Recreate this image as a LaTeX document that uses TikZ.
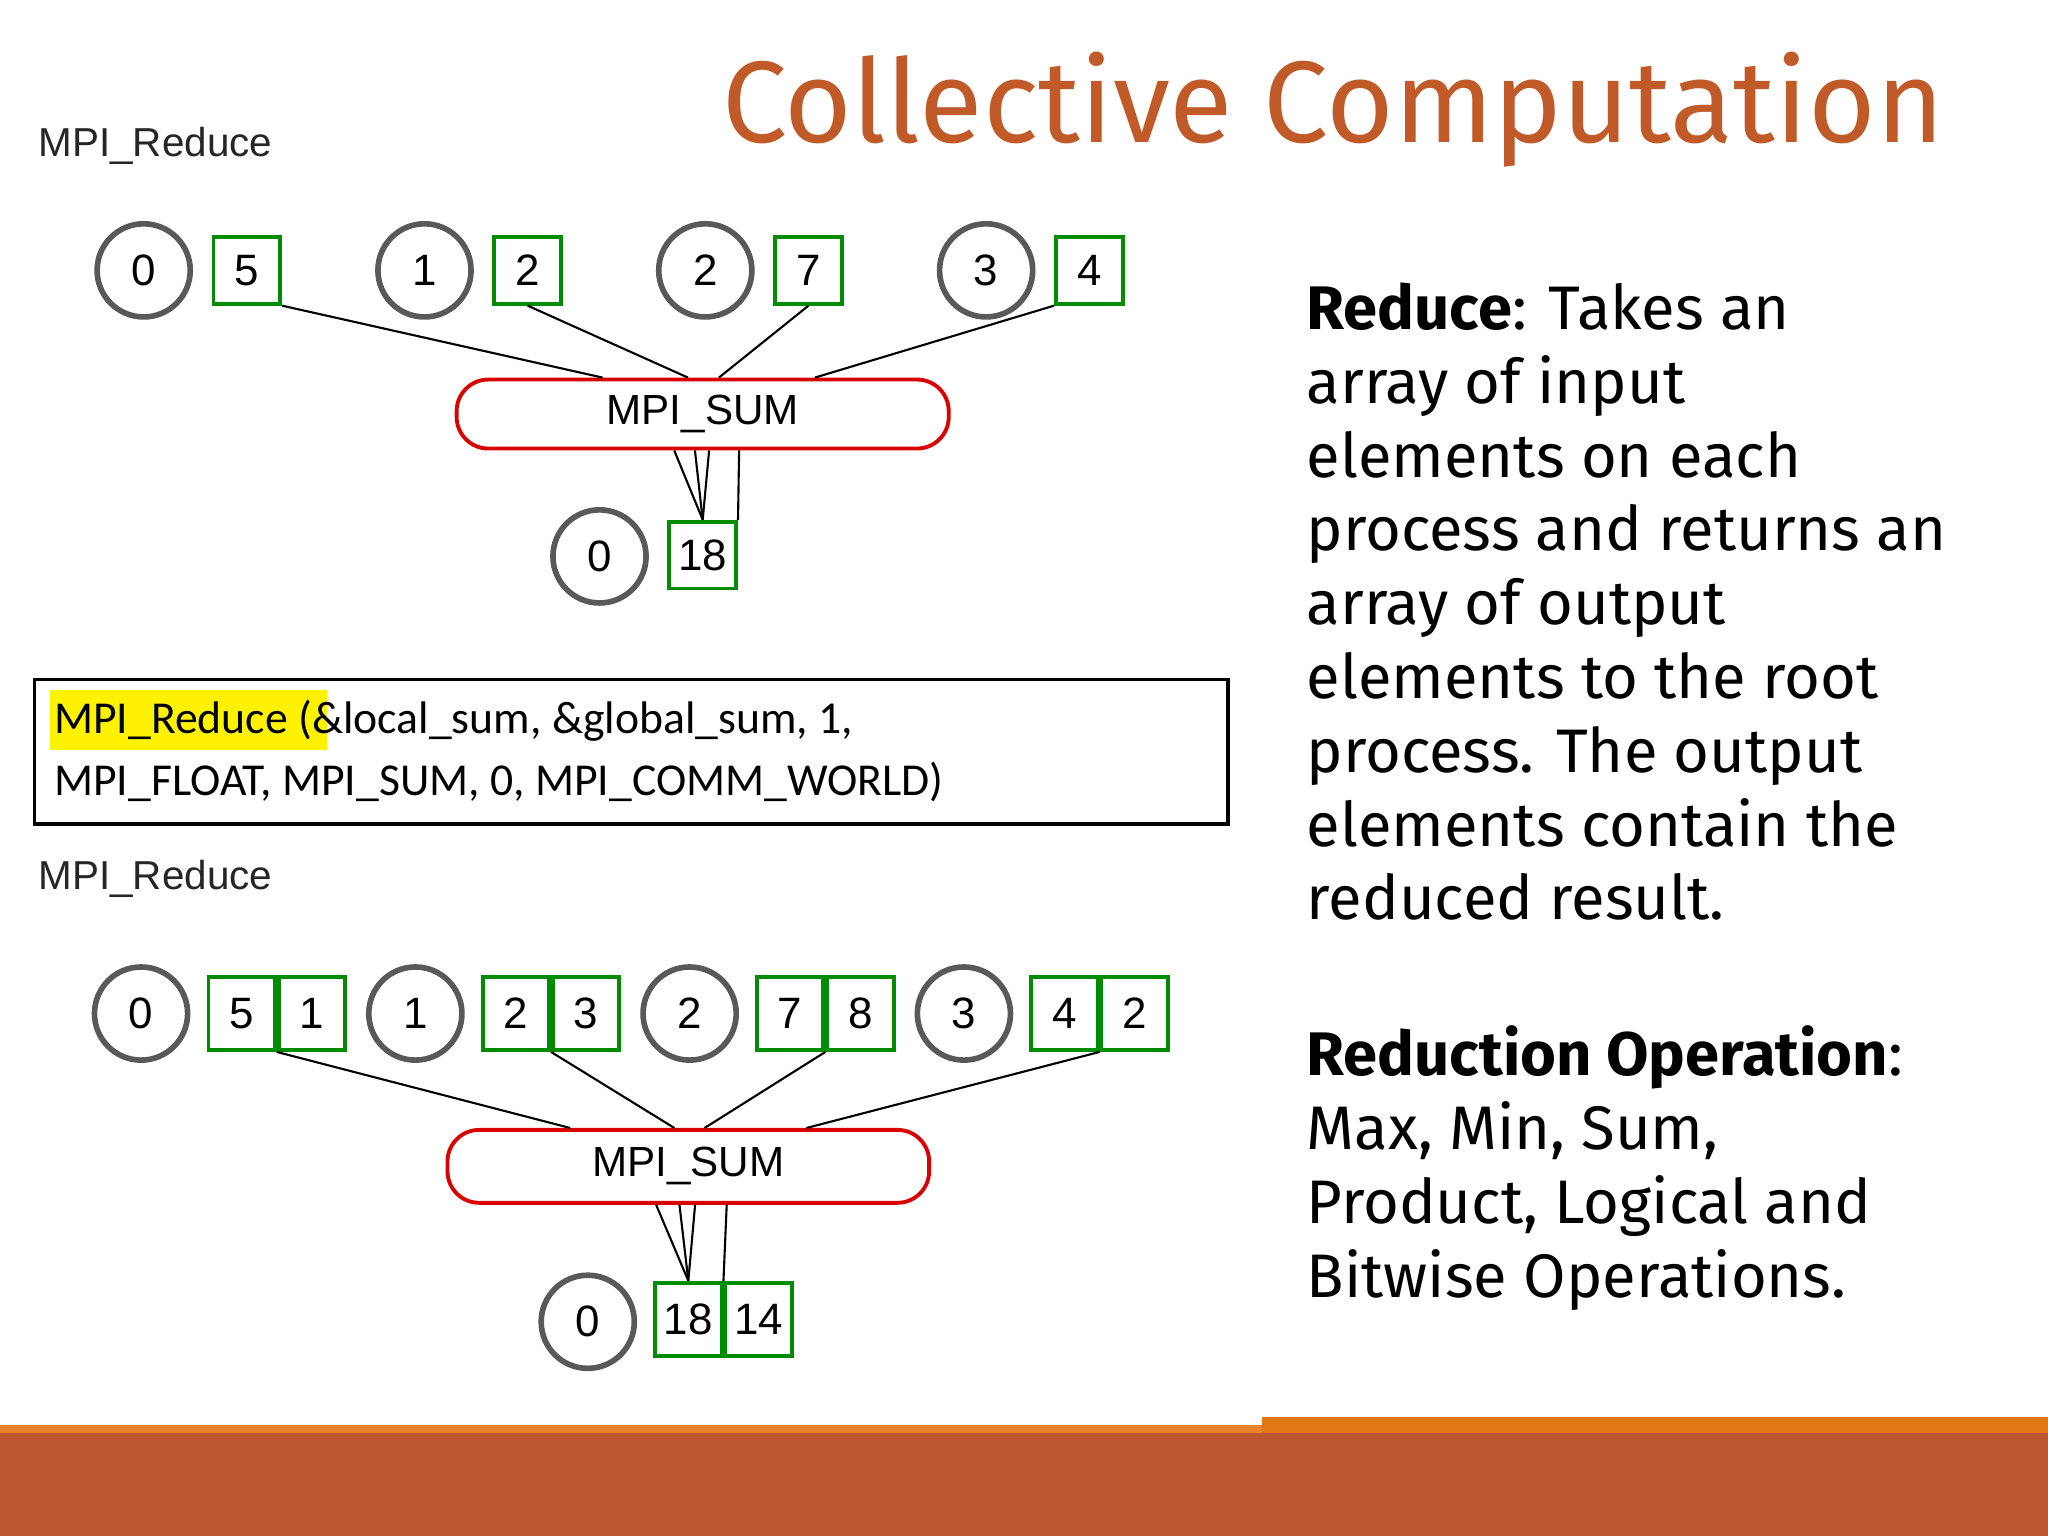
\documentclass[tikz,border=0pt]{standalone}
\usepackage{fontspec}
\setmainfont{Liberation Sans}
\newfontfamily\codefont{Carlito}
\newfontfamily\txtfont{Fira Sans}
\definecolor{titlec}{RGB}{192,90,40}
\definecolor{barc}{RGB}{190,86,46}
\definecolor{linea}{RGB}{233,130,40}
\definecolor{lineb}{RGB}{226,120,20}
\begin{document}
\begin{tikzpicture}[x=0.013061cm,y=-0.013061cm,
  proc/.style={circle,draw=black!65,line width=1.6pt,minimum size=26.5pt,inner sep=0pt,font=\fontsize{12.5}{14}\selectfont},
  val/.style={draw=green!55!black,line width=1.1pt,minimum size=19pt,inner sep=0pt,font=\fontsize{12.5}{14}\selectfont},
  op/.style={draw=red!85!black,line width=1.1pt,rounded corners=9pt,inner sep=0pt,font=\fontsize{12}{14}\selectfont},
  ln/.style={line width=0.6pt},
  lbl/.style={anchor=west,font=\fontsize{11.5}{14}\selectfont,text=black!85},
  rt/.style={anchor=north west,align=left,font=\txtfont\fontsize{17.5}{21}\selectfont,inner sep=0pt}]
\useasboundingbox (0,0) rectangle (1568,1176);
\fill[white] (0,0) rectangle (1568,1176);
% title
\node[anchor=east,text=titlec,font=\txtfont\fontsize{33}{38}\selectfont] (title) at (1498,84) {Collective Computation};
\node[lbl] (l1) at (20,112) {MPI\_Reduce};
% top diagram
\foreach \i/\x/\v in {0/110/5,1/325/2,2/540/7,3/755/4}{
  \node[proc] (p\i) at (\x,207) {\i};
  \node[val] (v\i) at (\x+79,207) {\v};
}
\node[op,minimum width=378*0.3704pt,minimum height=53*0.3704pt] (sum1) at (538,317) {MPI\_SUM};
\node[proc] (r1) at (459,426) {0};
\node[val] (rv1) at (538,425) {18};
\draw[ln] (v0.south east) -- (sum1.160);
\draw[ln] (v1.south) -- (sum1.112);
\draw[ln] (v2.south) -- (sum1.66);
\draw[ln] (v3.south west) -- (sum1.18);
\draw[ln] (sum1.-128) -- (rv1.north);
\draw[ln] (sum1.-102) -- (rv1.north);
\draw[ln] (sum1.-80) -- (rv1.north);
\draw[ln] (sum1.-45) -- (rv1.north east);
% code box
\node[draw,line width=1pt,minimum width=917*0.3704pt,minimum height=111*0.3704pt,anchor=north west] (code) at (25,519) {};
\fill[yellow] (38,528) rectangle (250,574);
\node[anchor=west,font=\codefont\fontsize{13}{17.6}\selectfont,align=left,inner sep=0pt] (ct) at (41,575) {MPI\_Reduce (\&local\_sum, \&global\_sum, 1,\\MPI\_FLOAT, MPI\_SUM, 0, MPI\_COMM\_WORLD)};
\node[lbl] (l2) at (20,673) {MPI\_Reduce};
% bottom diagram
\foreach \i/\x/\a/\b in {0/108/5/1,1/318/2/3,2/528/7/8,3/738/4/2}{
  \node[proc] (q\i) at (\x,776) {\i};
  \node[val,minimum width=51*0.3704pt,minimum height=56*0.3704pt] (a\i) at (\x+77,776) {\a};
  \node[val,minimum width=51*0.3704pt,minimum height=56*0.3704pt,anchor=west] (b\i) at (a\i.east) {\b};
}
\node[op,minimum width=370*0.3704pt,minimum height=56*0.3704pt] (sum2) at (527,893) {MPI\_SUM};
\node[proc] (r2) at (450,1012) {0};
\node[val,minimum width=51*0.3704pt,minimum height=56*0.3704pt] (ra) at (527,1010) {18};
\node[val,minimum width=51*0.3704pt,minimum height=56*0.3704pt,anchor=west] (rb) at (ra.east) {14};
\draw[ln] (a0.south east) -- (sum2.162);
\draw[ln] (a1.south east) -- (sum2.110);
\draw[ln] (a2.south east) -- (sum2.67);
\draw[ln] (b3.south west) -- (sum2.18);
\draw[ln] (sum2.-130) -- (ra.north);
\draw[ln] (sum2.-103) -- (ra.north);
\draw[ln] (sum2.-80) -- (ra.north);
\draw[ln] (sum2.-45) -- (ra.north east);
% right text
\node[rt] (t1) at (1000,216) {\textbf{Reduce}: Takes an\\array of input\\elements on each\\process and returns an\\array of output\\elements to the root\\process. The output\\elements contain the\\reduced result.};
\node[rt] (t2) at (1000,785) {\textbf{Reduction Operation}:\\Max, Min, Sum,\\Product, Logical and\\Bitwise Operations.};
% footer
\fill[barc] (0,1097) rectangle (1568,1176);
\fill[linea] (0,1091) rectangle (966,1097);
\fill[lineb] (966,1085) rectangle (1568,1097);
\end{tikzpicture}
\end{document}
